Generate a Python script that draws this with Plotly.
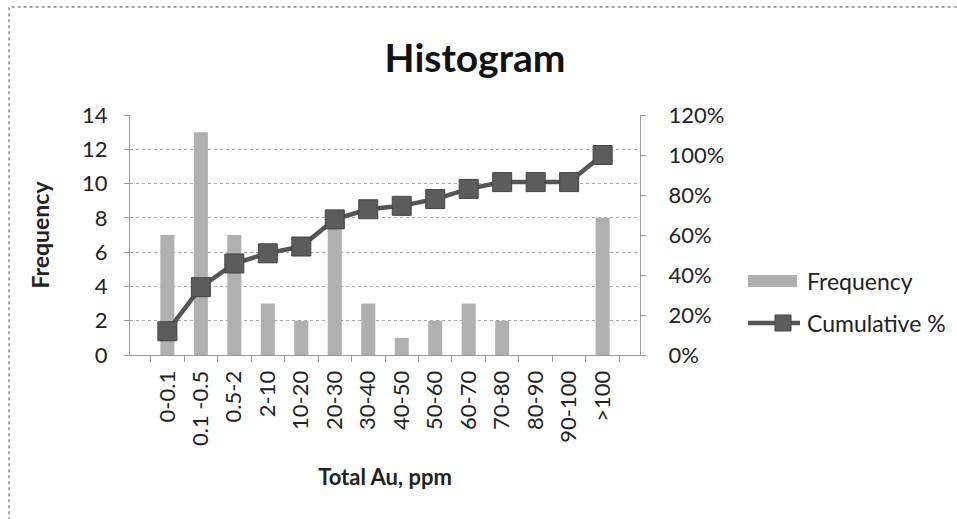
import plotly.graph_objects as go

# Gold assay histogram: frequency per concentration bin plus cumulative share
bins = ["0-0.1", "0.1 -0.5", "0.5-2", "2-10", "10-20", "20-30", "30-40",
        "40-50", "50-60", "60-70", "70-80", "80-90", "90-100", ">100"]
frequency = [7, 13, 7, 3, 2, 8, 3, 1, 2, 3, 2, 0, 0, 8]
cumulative_pct = [0.1186, 0.3390, 0.4576, 0.5085, 0.5424, 0.6780, 0.7288,
                  0.7458, 0.7797, 0.8305, 0.8644, 0.8644, 0.8644, 1.0]
legend_labels = ["Frequency", "Cumulative %"]

FONT = "Lato, 'Open Sans', sans-serif"
AXIS_GRAY = "#9a9a9a"
BAR_GRAY = "#b0b0b0"
LINE_GRAY = "#555555"
MARKER_GRAY = "#5c5c5c"

fig = go.Figure()
fig.add_trace(go.Bar(
    x=bins, y=frequency, name=legend_labels[0],
    marker=dict(color=BAR_GRAY, line=dict(width=0)),
    width=0.42, showlegend=False,
))
fig.add_trace(go.Scatter(
    x=bins, y=cumulative_pct, name=legend_labels[1],
    yaxis="y2", mode="lines+markers",
    line=dict(color=LINE_GRAY, width=4.5),
    marker=dict(symbol="square", size=19, color=MARKER_GRAY,
                line=dict(color="#444444", width=1)),
    showlegend=False,
))

# dotted frame around the chart area
fig.add_shape(type="rect", xref="paper", yref="paper",
              x0=-0.2373, x1=1.64, y0=-0.72, y1=1.45,
              line=dict(color="#8a8a8a", width=1.5, dash="dot"),
              fillcolor="rgba(0,0,0,0)", layer="below")

# legend drawn to the right of the plot: wide bar swatch, line with square marker
fig.add_shape(type="rect", xref="paper", yref="paper",
              x0=1.2118, x1=1.3078, y0=0.2833, y1=0.3333,
              line=dict(width=0), fillcolor=BAR_GRAY)
fig.add_shape(type="line", xref="paper", yref="paper",
              x0=1.2118, x1=1.3137, y0=0.1333, y1=0.1333,
              line=dict(color=LINE_GRAY, width=4.5))
fig.add_shape(type="rect", xref="paper", yref="paper",
              x0=1.2647, x1=1.2961, y0=0.1, y1=0.1667,
              line=dict(color="#444444", width=1), fillcolor=MARKER_GRAY)
for label, ypos in zip(legend_labels, [0.3083, 0.1333]):
    fig.add_annotation(text=label, xref="paper", yref="paper",
                       x=1.3235, y=ypos, xanchor="left", yanchor="middle",
                       showarrow=False,
                       font=dict(family=FONT, size=23, color="#222222"))

fig.update_layout(
    width=957, height=519,
    margin=dict(l=130, r=317, t=115, b=164),
    paper_bgcolor="white", plot_bgcolor="white",
    font=dict(family=FONT, size=22, color="#222222"),
    title=dict(text="<b>Histogram</b>", x=475 / 957, xanchor="center",
               y=1 - 58 / 519, yanchor="middle",
               font=dict(family=FONT, size=39, color="#111111")),
    showlegend=False,
    bargap=0.6,
    xaxis=dict(
        type="category", tickangle=-90,
        showline=True, linecolor=AXIS_GRAY, linewidth=1,
        ticks="outside", tickson="boundaries", ticklen=6, tickcolor=AXIS_GRAY,
        showgrid=False, ticklabelstandoff=6,
        tickfont=dict(family=FONT, size=22),
        title=dict(text="<b>Total Au, ppm</b>", standoff=24,
                   font=dict(family=FONT, size=22)),
    ),
    yaxis=dict(
        range=[0, 14], dtick=2,
        showline=True, linecolor=AXIS_GRAY, linewidth=1,
        ticks="outside", ticklen=5, tickcolor=AXIS_GRAY,
        showgrid=True, gridcolor="#a8a8a8", griddash="dot", gridwidth=1,
        zeroline=False, ticklabelstandoff=12,
        tickfont=dict(family=FONT, size=22),
        title=dict(text="<b>Frequency</b>", standoff=26,
                   font=dict(family=FONT, size=23)),
    ),
    yaxis2=dict(
        range=[0, 1.2], dtick=0.2, tickformat=".0%",
        overlaying="y", side="right",
        showline=True, linecolor=AXIS_GRAY, linewidth=1,
        ticks="outside", ticklen=5, tickcolor=AXIS_GRAY,
        showgrid=False, zeroline=False, ticklabelstandoff=18,
        tickfont=dict(family=FONT, size=22),
    ),
)

fig.write_html("out.html")
